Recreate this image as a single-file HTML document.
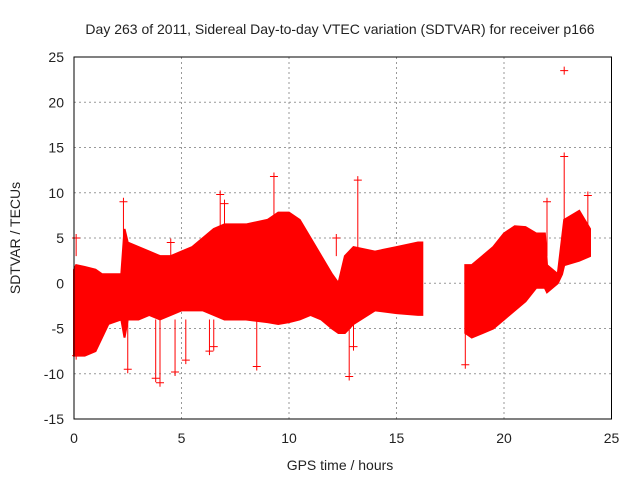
<!DOCTYPE html>
<html><head><meta charset="utf-8"><style>
body{margin:0;background:#fff}
svg text{font-family:"Liberation Sans",sans-serif;font-size:14px;fill:#222}
</style></head><body>
<svg width="640" height="480">
<g id="grid"></g>
<g id="data"></g>
<g id="axes"></g>
<text x="340" y="34" text-anchor="middle">Day 263 of 2011, Sidereal Day-to-day VTEC variation (SDTVAR) for receiver p166</text>
<text x="340" y="470" text-anchor="middle">GPS time / hours</text>
<text transform="translate(20,238) rotate(-90)" text-anchor="middle">SDTVAR / TECUs</text>
</svg>
<script>
const xTicks=[0,5,10,15,20,25];
const yTicks=[25,20,15,10,5,0,-5,-10,-15];
const seg1T=[0,0.1,0.5,1,1.3,1.6,2.2,2.35,2.5,3,3.5,4,4.5,5,5.5,6,6.5,7,8,9,9.5,10,10.5,11,11.5,12,12.3,12.6,13,14,15,16,16.2];
const seg1Up=[1.5,2,1.8,1.5,1,1,1,6,4.5,4,3.5,3,3,3.5,4,5,6,6.5,6.5,7,7.8,7.8,7,5,3,1,0,3,4,3.5,4,4.5,4.5];
const seg1Lo=[-8,-8,-8,-7.5,-6,-4.5,-4,-6,-4,-4,-3.5,-4,-3.5,-3,-3,-3,-3.5,-4,-4,-4.3,-4.5,-4.3,-4,-3.5,-4,-5,-5.5,-5.5,-4.5,-3,-3.3,-3.5,-3.5];
const seg2T=[18.2,18.5,19,19.5,20,20.5,21,21.5,21.9,22,22.5,22.7,22.8,23.5,24];
const seg2Up=[2,2,3,4,5.5,6.3,6.2,5.5,5.5,2,1,5,7,8,6];
const seg2Lo=[-5.5,-6,-5.5,-5,-4,-3,-2,-0.5,-0.5,-1,0,1,2,2.5,3];
const outT=[0.1,2.3,4.5,6.8,7,9.3,13.2,12.2,22.8,22.8,22,23.9,3.8,4,4.7,5.2,8.5,12.8,6.3,6.5,2.5,0.1,13,18.2];
const outV=[5,9,4.5,9.8,8.8,11.8,11.4,5,23.5,14,9,9.7,-10.5,-11,-9.8,-8.5,-9.2,-10.3,-7.5,-7,-9.5,-8,-7,-9];
const X0=74,X1=611.5,Y0=57,Y1=419;
const sx=t=>X0+(t-0)/25*(X1-X0);
const sy=v=>Y0+(25-v)/40*(Y1-Y0);
const NS='http://www.w3.org/2000/svg';
function mk(tag,attrs,parent){const e=document.createElementNS(NS,tag);for(const k in attrs)e.setAttribute(k,attrs[k]);document.getElementById(parent).appendChild(e);return e;}
xTicks.forEach(t=>{
 if(t>0&&t<25){const l=mk('line',{x1:sx(t),x2:sx(t),y1:Y0,y2:Y1,stroke:'#999','stroke-dasharray':'2,3'},'grid');
 
 }
 const tx=mk('text',{x:sx(t),y:Y1+24,'text-anchor':'middle'},'axes');tx.textContent=t;
 
 
});
yTicks.forEach(v=>{
 if(v<25&&v>-15){const l=mk('line',{x1:X0,x2:X1,y1:sy(v),y2:sy(v),stroke:'#999','stroke-dasharray':'2,3'},'grid');
 
 }
 const tx=mk('text',{x:X0-10,y:sy(v)+5,'text-anchor':'end'},'axes');tx.textContent=v;
 
 
});
function band(T,U,L,name){
 let pts=T.map((t,i)=>sx(t)+','+sy(U[i]));
 for(let i=T.length-1;i>=0;i--)pts.push(sx(T[i])+','+sy(L[i]));
 const p=mk('polygon',{points:pts.join(' '),fill:'#f00',stroke:'#f00','stroke-width':2},'data');
 
 
}
band(seg1T,seg1Up,seg1Lo,'data-band-1');
band(seg2T,seg2Up,seg2Lo,'data-band-2');
outT.forEach((t,i)=>{
 const x=sx(t),y=sy(outV[i]);
 const isolated=outV[i]>20;
 const base=outV[i]>0?sy(Math.min(outV[i],3)):sy(Math.max(outV[i],-4));
 const d=`M${x-4},${y}H${x+4}M${x},${y-4}V${y+4}`+(isolated?'':`M${x},${y}V${base}`);
 const p=mk('path',{d:d,stroke:'#f00','stroke-width':1},'data');
 
 
});
const f=mk('rect',{x:X0,y:Y0,width:X1-X0,height:Y1-Y0,fill:'none',stroke:'#000','stroke-width':1},'axes');


</script>
</body></html>
